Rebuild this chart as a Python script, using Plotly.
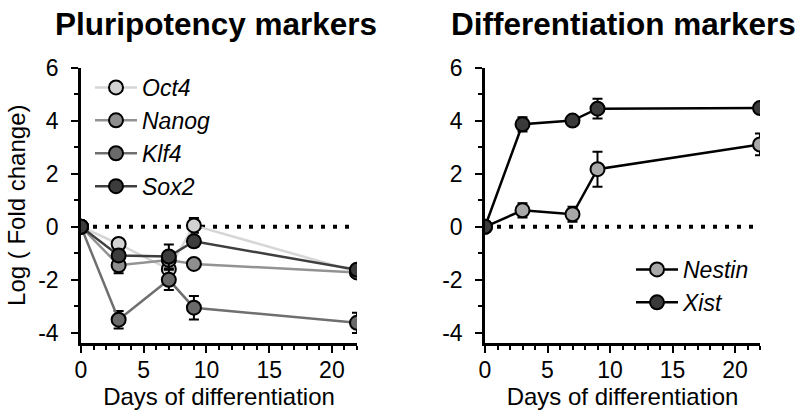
import plotly.graph_objects as go

days = [0, 3, 7, 9, 22]

oct4 = [0, -0.65, -1.6, 0.05, -1.7]
oct4_err = [0, 0.15, 0.2, 0.28, 0.08]
nanog = [0, -1.45, -1.25, -1.4, -1.72]
nanog_err = [0, 0.3, 0.1, 0.1, 0.08]
klf4 = [0, -3.5, -2.0, -3.05, -3.62]
klf4_err = [0, 0.33, 0.38, 0.44, 0.38]
sox2 = [0, -1.08, -1.12, -0.55, -1.62]
sox2_err = [0, 0.15, 0.45, 0.2, 0.08]

nestin = [0, 0.62, 0.47, 2.17, 3.1]
nestin_err = [0, 0.27, 0.28, 0.66, 0.41]
xist = [0, 3.86, 4.0, 4.45, 4.47]
xist_err = [0, 0.27, 0.1, 0.37, 0.08]

x_ticks = [0, 5, 10, 15, 20]
y_ticks = [-4, -2, 0, 2, 4, 6]
y_ticktext = ["-4", "-2", "0", "2", "4", "6"]

FONT = "Liberation Sans, Arial, sans-serif"
W, H = 802, 416

fig = go.Figure()

left_series = [
    ("Oct4", oct4, oct4_err, "#d6d6d6", "#d2d2d2"),
    ("Nanog", nanog, nanog_err, "#939393", "#8e8e8e"),
    ("Klf4", klf4, klf4_err, "#6f6f6f", "#6a6a6a"),
    ("Sox2", sox2, sox2_err, "#3f3f3f", "#3c3c3c"),
]
for name, vals, err, lc, fc in left_series:
    fig.add_trace(go.Scatter(
        x=days, y=vals, name=name, mode="lines+markers",
        line=dict(color=lc, width=2.5),
        marker=dict(size=14, color=fc, line=dict(color="black", width=2)),
        error_y=dict(type="data", array=err, color="black", thickness=2, width=5),
        xaxis="x", yaxis="y", legend="legend",
    ))

right_series = [
    ("Nestin", nestin, nestin_err, "#a8a8a8"),
    ("Xist", xist, xist_err, "#3a3a3a"),
]
for name, vals, err, fc in right_series:
    fig.add_trace(go.Scatter(
        x=days, y=vals, name=name, mode="lines+markers",
        line=dict(color="black", width=2.5),
        marker=dict(size=14, color=fc, line=dict(color="black", width=2)),
        error_y=dict(type="data", array=err, color="black", thickness=2, width=5),
        xaxis="x2", yaxis="y2", legend="legend2",
    ))

for xr, yr in (("x", "y"), ("x2", "y2")):
    fig.add_shape(type="line", xref=xr, yref=yr, x0=0, x1=21.5, y0=0, y1=0,
                  line=dict(color="black", width=4, dash="4px,8px"), layer="below")

common_x = dict(
    range=[0, 22], tickvals=x_ticks, showline=True, linecolor="black",
    linewidth=2.5, ticks="outside", ticklen=7, tickwidth=2, tickcolor="black",
    minor=dict(dtick=1, ticks="outside", ticklen=4, tickwidth=1.5, tickcolor="black"),
    showgrid=False, zeroline=False, tickfont=dict(size=23, color="black"),
    ticklabelstandoff=-2, automargin=False,
    title=dict(text="Days of differentiation", font=dict(size=24, color="black"), standoff=2),
)
common_y = dict(
    range=[-4.38, 6], tickvals=y_ticks, ticktext=y_ticktext, showline=True, linecolor="black",
    linewidth=2.5, ticks="outside", ticklen=7, tickwidth=2, tickcolor="black",
    minor=dict(dtick=1, ticks="outside", ticklen=4, tickwidth=1.5, tickcolor="black"),
    showgrid=False, zeroline=False, tickfont=dict(size=23, color="black"),
    ticklabelstandoff=8, automargin=False, domain=[1 - 343 / H, 1 - 67.5 / H],
)

legend_common = dict(xanchor="left", yanchor="top",
                     font=dict(size=23, style="italic", color="black"),
                     bgcolor="rgba(0,0,0,0)", tracegroupgap=0, itemwidth=42)

fig.update_layout(
    width=W, height=H,
    margin=dict(l=0, r=0, t=0, b=0, autoexpand=False),
    paper_bgcolor="white", plot_bgcolor="white",
    font=dict(family=FONT, color="black"),
    xaxis=dict(common_x, domain=[81 / W, 357 / W], anchor="y"),
    yaxis=dict(common_y, anchor="x",
               title=dict(text="Log ( Fold change)", font=dict(size=24, color="black"), standoff=6)),
    xaxis2=dict(common_x, domain=[485 / W, 760 / W], anchor="y2"),
    yaxis2=dict(common_y, anchor="x2"),
    legend=dict(legend_common, x=90 / W, y=1 - 66 / H),
    legend2=dict(legend_common, x=631 / W, y=1 - 248 / H),
    showlegend=True,
    annotations=[
        dict(text="<b>Pluripotency markers</b>", x=216 / W, y=1 - 24 / H,
             xref="paper", yref="paper", showarrow=False, xanchor="center", yanchor="middle",
             font=dict(size=31.5, color="black")),
        dict(text="<b>Differentiation markers</b>", x=623 / W, y=1 - 24 / H,
             xref="paper", yref="paper", showarrow=False, xanchor="center", yanchor="middle",
             font=dict(size=31.5, color="black")),
    ],
)

fig.write_html(
    "out.html",
    config={"displayModeBar": False},
    post_script="document.body.style.margin='0';document.body.style.overflow='hidden';",
)
